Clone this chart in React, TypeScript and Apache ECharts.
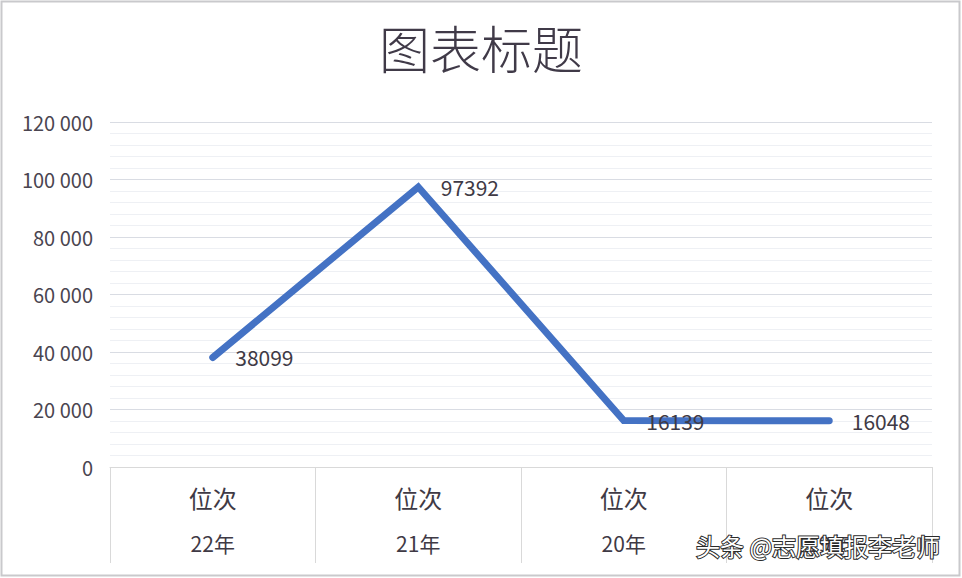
import React, { useEffect, useRef } from 'react'
import * as echarts from 'echarts'

const titleText = '图表标题'
const levelLabel = '位次'
const categories = ['22年', '21年', '20年', '19年']
const values = [38099, 97392, 16139, 16048]
const watermark = '头条 @志愿填报李老师'

const FONT = '"Noto Sans CJK SC", "Noto Sans", sans-serif'

const fmtNum = (v: number) => String(v).replace(/\B(?=(\d{3})+(?!\d))/g, ' ')

const App: React.FC = () => {
  const chartRef = useRef<HTMLDivElement>(null)

  useEffect(() => {
    if (!chartRef.current) return
    const chart = echarts.init(chartRef.current, undefined, { renderer: 'svg' })

    const option: echarts.EChartsOption = {
      animation: false,
      backgroundColor: '#ffffff',
      textStyle: { fontFamily: FONT },
      title: {
        text: titleText,
        left: 'center',
        top: 16,
        textStyle: {
          fontSize: 51,
          fontWeight: 300,
          color: '#403a48',
          fontFamily: FONT
        }
      },
      grid: {
        left: 110,
        right: 30,
        top: 122,
        bottom: 111,
        containLabel: false
      },
      xAxis: {
        type: 'category',
        data: categories,
        boundaryGap: true,
        axisLine: { lineStyle: { color: '#d9d9d9', width: 1 } },
        axisTick: {
          show: true,
          interval: 0,
          length: 96,
          lineStyle: { color: '#d9d9d9', width: 1 }
        },
        axisLabel: {
          interval: 0,
          margin: 7,
          formatter: (v: string) => `{a|${levelLabel}}\n{b|${v}}`,
          rich: {
            a: { fontSize: 24, lineHeight: 46, color: '#3f3a45', fontFamily: FONT },
            b: { fontSize: 21, lineHeight: 46, color: '#3f3a45', fontFamily: FONT }
          }
        }
      },
      yAxis: {
        type: 'value',
        min: 0,
        max: 120000,
        interval: 20000,
        axisLine: { show: false },
        axisTick: { show: false },
        axisLabel: {
          fontSize: 20,
          color: '#4a4550',
          margin: 17,
          fontFamily: FONT,
          formatter: (v: number) => fmtNum(v)
        },
        splitLine: { lineStyle: { color: '#d9dce3', width: 1 } },
        minorTick: { show: false, splitNumber: 5 },
        minorSplitLine: { show: true, lineStyle: { color: '#eef0f4', width: 1 } }
      },
      series: [
        {
          type: 'line',
          data: values,
          symbol: 'circle',
          symbolSize: 1,
          itemStyle: { color: '#4472c4' },
          lineStyle: { color: '#4472c4', width: 7, cap: 'round', join: 'miter' },
          label: {
            show: true,
            position: 'right',
            distance: 22,
            fontSize: 21,
            color: '#3f3a45',
            fontFamily: FONT,
            formatter: (p: any) => String(p.value)
          }
        }
      ],
      graphic: [
        {
          type: 'rect',
          z: -1,
          silent: true,
          shape: { x: 1.5, y: 1.5, width: 958, height: 574 },
          style: { fill: 'none', stroke: '#c9c9cc', lineWidth: 2 }
        },
        {
          type: 'text',
          z: 100,
          left: 695,
          top: 532,
          style: {
            text: watermark,
            fontSize: 24,
            fontFamily: FONT,
            fill: '#ffffff',
            stroke: '#2a2a2a',
            lineWidth: 2
          }
        }
      ]
    }

    chart.setOption(option)
    return () => {
      chart.dispose()
    }
  }, [])

  return (
    <div
      ref={chartRef}
      style={{ position: 'fixed', left: 0, top: 0, width: '962px', height: '578px' }}
    />
  )
}

export default App
